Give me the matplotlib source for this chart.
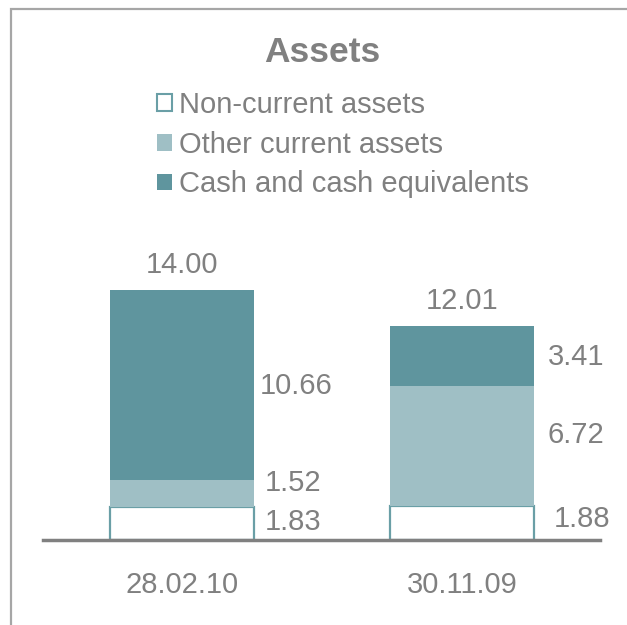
import matplotlib.pyplot as plt
from matplotlib.patches import Patch, Rectangle

plt.rcParams['font.family'] = ['Liberation Sans', 'DejaVu Sans']

# data
dates = ["28.02.10", "30.11.09"]
series_names = ["Non-current assets", "Other current assets", "Cash and cash equivalents"]
non_current = [1.83, 1.88]
other_current = [1.52, 6.72]
cash = [10.66, 3.41]
totals = [14.00, 12.01]

dark = "#5f959e"
light = "#9fbfc5"
edge = "#6a9fa6"
grey = "#808080"

W, H = 627, 625
fig = plt.figure(figsize=(W / 100, H / 100), dpi=100)

# partial frame (top and left border)
fig.patches.append(Rectangle((11 / W, -0.1), 1.2, (H - 9) / H + 0.1,
                             transform=fig.transFigure, fill=False,
                             edgecolor="#a6a6a6", linewidth=1.6))

ax = fig.add_axes([43 / W, 85 / H, (600 - 43) / W, 300 / H])
ax.set_xlim(-0.496, 1.493)
ax.set_ylim(0, 16.8)

x = [0, 1]
width = 0.514
ax.bar(x, non_current, width, color="white", edgecolor=edge, linewidth=1.6,
       label=series_names[0], zorder=2)
ax.bar(x, other_current, width, bottom=non_current, color=light,
       label=series_names[1], zorder=2)
bottom3 = [a + b for a, b in zip(non_current, other_current)]
ax.bar(x, cash, width, bottom=bottom3, color=dark,
       label=series_names[2], zorder=2)

# value labels right of bars
fs = 21
nc_dx = [8, 14]
oc_dx = [8, 10]
ca_dx = [4, 10]
for i in range(2):
    xr = x[i] + width / 2
    ax.annotate(f"{non_current[i]:.2f}", (xr, non_current[i] / 2), xytext=(nc_dx[i], 1 + 2 * i),
                textcoords="offset points", va="center", ha="left", fontsize=fs, color=grey)
    ax.annotate(f"{other_current[i]:.2f}", (xr, non_current[i] + other_current[i] / 2),
                xytext=(oc_dx[i], 8), textcoords="offset points",
                va="center", ha="left", fontsize=fs, color=grey)
    ax.annotate(f"{cash[i]:.2f}", (xr, bottom3[i] + cash[i] / 2), xytext=(ca_dx[i], -1),
                textcoords="offset points", va="center", ha="left", fontsize=fs, color=grey)
    ax.annotate(f"{totals[i]:.2f}", (x[i], totals[i]), xytext=(0, 18),
                textcoords="offset points", va="center", ha="center", fontsize=fs, color=grey)

for s in ["top", "right", "left"]:
    ax.spines[s].set_visible(False)
ax.spines["bottom"].set_color(grey)
ax.spines["bottom"].set_linewidth(2.5)
ax.set_yticks([])
ax.set_xticks(x)
ax.set_xticklabels(dates, fontsize=fs, color=grey)
ax.tick_params(axis="x", length=0, pad=22)

fig.text(322 / W, 1 - 53 / H, "Assets", ha="center", va="center",
         fontsize=25.5, fontweight="bold", color=grey)

handles = [Patch(facecolor="white", edgecolor=edge, linewidth=1.5),
           Patch(facecolor=light), Patch(facecolor=dark)]
leg = fig.legend(handles, series_names, loc="upper left",
                 bbox_to_anchor=(157 / W, 1 - 91 / H), frameon=False,
                 fontsize=fs, handlelength=0.51, handleheight=0.51,
                 handletextpad=0.24, labelspacing=0.40, borderpad=0, borderaxespad=0)
for t in leg.get_texts():
    t.set_color(grey)

fig.savefig("out.png", dpi=100)
